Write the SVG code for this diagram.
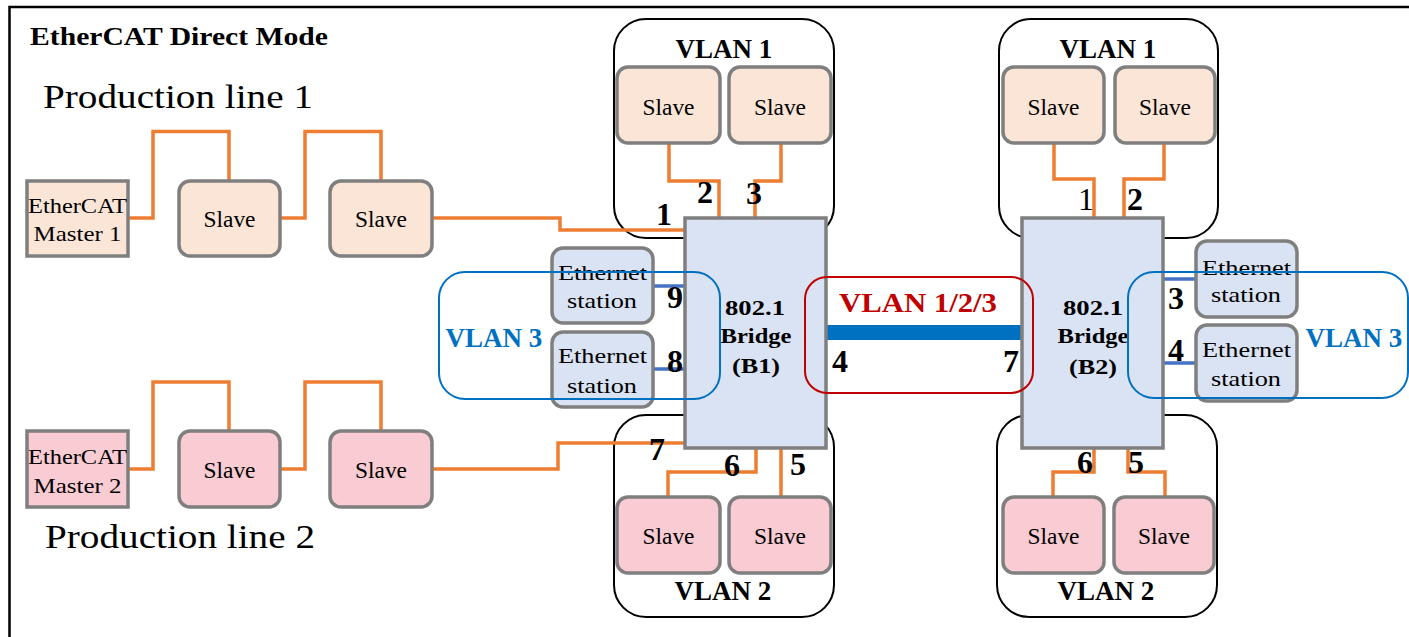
<svg xmlns="http://www.w3.org/2000/svg" width="1409" height="637" viewBox="0 0 1409 637">
<style>
text{font-family:"Liberation Serif","Times New Roman",serif;fill:#000}
.t{font-size:22px;text-anchor:middle}
.s{font-size:23px;text-anchor:middle}
.b{font-weight:bold}
.vl{font-size:27px;font-weight:bold;text-anchor:middle}
.num{font-size:32px;font-weight:bold;text-anchor:middle}
.dev1{fill:#FBE5D6;stroke:#7F7F7F;stroke-width:3.5}
.dev2{fill:#F9CBD3;stroke:#7F7F7F;stroke-width:3.5}
.eth{fill:#DAE3F3;stroke:#7F7F7F;stroke-width:3.5}
.br{fill:#DAE3F3;stroke:#7F7F7F;stroke-width:3.5}
.grp{fill:none;stroke:#000;stroke-width:2}
.v3{fill:none;stroke:#0070C0;stroke-width:2}
.or{fill:none;stroke:#ED7D31;stroke-width:3.5}
.bl{fill:none;stroke:#4472C4;stroke-width:3.5}
</style>
<rect x="0" y="0" width="1409" height="637" fill="#fff"/>
<rect id="frame" x="9.5" y="7" width="1430" height="660" fill="none" stroke="#000" stroke-width="2.5"/>
<text x="30" y="45" font-size="25" font-weight="bold" textLength="298" lengthAdjust="spacingAndGlyphs">EtherCAT Direct Mode</text>
<text x="43" y="108" font-size="33" textLength="270" lengthAdjust="spacingAndGlyphs">Production line 1</text>
<text x="45" y="548" font-size="33" textLength="270" lengthAdjust="spacingAndGlyphs">Production line 2</text>

<g id="vlan1-b1"><rect class="grp" x="614" y="19" width="220" height="219" rx="32"/><text class="vl" x="724" y="58">VLAN 1</text></g>
<g id="vlan2-b1"><rect class="grp" x="614" y="415" width="220" height="202" rx="32"/><text class="vl" x="723" y="600">VLAN 2</text></g>
<g id="vlan1-b2"><rect class="grp" x="999" y="19" width="219" height="219" rx="32"/><text class="vl" x="1108" y="58">VLAN 1</text></g>
<g id="vlan2-b2"><rect class="grp" x="997" y="415" width="220" height="202" rx="32"/><text class="vl" x="1106" y="600">VLAN 2</text></g>

<g id="connectors">
<polyline class="or" points="128,218 153,218 153,131.5 229,131.5 229,181"/>
<polyline class="or" points="280,218 305,218 305,131.5 381,131.5 381,181"/>
<polyline class="or" points="432,218 560,218 560,230 685,230"/>
<polyline class="or" points="128,469 153,469 153,382 229,382 229,431"/>
<polyline class="or" points="280,469 305,469 305,382 381,382 381,431"/>
<polyline class="or" points="432,469 558,469 558,443 685,443"/>
<polyline class="or" points="669,143 669,181 719,181 719,218"/>
<polyline class="or" points="781,143 781,181 755,181 755,218"/>
<polyline class="or" points="756,448 756,472 668,472 668,497"/>
<polyline class="or" points="781,448 781,497"/>
<polyline class="or" points="1054,143 1054,179 1094,179 1094,217"/>
<polyline class="or" points="1164,143 1164,179 1124,179 1124,217"/>
<polyline class="or" points="1094,448 1094,472 1053,472 1053,497"/>
<polyline class="or" points="1128,448 1128,472 1165,472 1165,497"/>
<line class="bl" x1="653" y1="286" x2="685" y2="286"/>
<line class="bl" x1="653" y1="369" x2="685" y2="369"/>
<line class="bl" x1="1163" y1="279" x2="1196" y2="279"/>
<line class="bl" x1="1163" y1="363" x2="1196" y2="363"/>
<rect x="826" y="325" width="197" height="15" fill="#0070C0"/>
</g>

<g id="master1"><rect class="dev1" x="27" y="181" width="101" height="75"/><text class="t" x="77.5" y="213" textLength="99" lengthAdjust="spacingAndGlyphs">EtherCAT</text><text class="t" x="77.5" y="241" textLength="88" lengthAdjust="spacingAndGlyphs">Master 1</text></g>
<g id="slave-p1-1"><rect class="dev1" x="179" y="181" width="101" height="75" rx="11"/><text class="s" x="229.5" y="227" textLength="52" lengthAdjust="spacingAndGlyphs">Slave</text></g>
<g id="slave-p1-2"><rect class="dev1" x="330" y="181" width="102" height="75" rx="11"/><text class="s" x="381" y="227" textLength="52" lengthAdjust="spacingAndGlyphs">Slave</text></g>
<g id="master2"><rect class="dev2" x="27" y="431" width="101" height="76"/><text class="t" x="77.5" y="464" textLength="99" lengthAdjust="spacingAndGlyphs">EtherCAT</text><text class="t" x="77.5" y="493" textLength="88" lengthAdjust="spacingAndGlyphs">Master 2</text></g>
<g id="slave-p2-1"><rect class="dev2" x="179" y="431" width="101" height="76" rx="11"/><text class="s" x="229.5" y="478" textLength="52" lengthAdjust="spacingAndGlyphs">Slave</text></g>
<g id="slave-p2-2"><rect class="dev2" x="330" y="431" width="102" height="76" rx="11"/><text class="s" x="381" y="478" textLength="52" lengthAdjust="spacingAndGlyphs">Slave</text></g>

<g id="slave-b1-t1"><rect class="dev1" x="617" y="67" width="103" height="76" rx="11"/><text class="s" x="668.5" y="115" textLength="52" lengthAdjust="spacingAndGlyphs">Slave</text></g>
<g id="slave-b1-t2"><rect class="dev1" x="729" y="67" width="102" height="76" rx="11"/><text class="s" x="780" y="115" textLength="52" lengthAdjust="spacingAndGlyphs">Slave</text></g>
<g id="slave-b1-b1"><rect class="dev2" x="617" y="497" width="103" height="76" rx="11"/><text class="s" x="668.5" y="544" textLength="52" lengthAdjust="spacingAndGlyphs">Slave</text></g>
<g id="slave-b1-b2"><rect class="dev2" x="729" y="497" width="102" height="76" rx="11"/><text class="s" x="780" y="544" textLength="52" lengthAdjust="spacingAndGlyphs">Slave</text></g>
<g id="slave-b2-t1"><rect class="dev1" x="1003" y="67" width="101" height="76" rx="11"/><text class="s" x="1053.5" y="115" textLength="52" lengthAdjust="spacingAndGlyphs">Slave</text></g>
<g id="slave-b2-t2"><rect class="dev1" x="1115" y="67" width="100" height="76" rx="11"/><text class="s" x="1165" y="115" textLength="52" lengthAdjust="spacingAndGlyphs">Slave</text></g>
<g id="slave-b2-b1"><rect class="dev2" x="1003" y="497" width="101" height="76" rx="11"/><text class="s" x="1053.5" y="544" textLength="52" lengthAdjust="spacingAndGlyphs">Slave</text></g>
<g id="slave-b2-b2"><rect class="dev2" x="1114" y="497" width="100" height="76" rx="11"/><text class="s" x="1164" y="544" textLength="52" lengthAdjust="spacingAndGlyphs">Slave</text></g>

<g id="bridge-b1"><rect class="br" x="685" y="218" width="141" height="230"/><text class="t b" x="755" y="315" textLength="60" lengthAdjust="spacingAndGlyphs">802.1</text><text class="t b" x="756" y="343" textLength="71" lengthAdjust="spacingAndGlyphs">Bridge</text><text class="t b" x="756" y="373" textLength="48" lengthAdjust="spacingAndGlyphs">(B1)</text></g>
<g id="bridge-b2"><rect class="br" x="1022" y="218" width="141" height="230"/><text class="t b" x="1093" y="315" textLength="60" lengthAdjust="spacingAndGlyphs">802.1</text><text class="t b" x="1093" y="343" textLength="71" lengthAdjust="spacingAndGlyphs">Bridge</text><text class="t b" x="1093" y="374" textLength="48" lengthAdjust="spacingAndGlyphs">(B2)</text></g>

<g id="eth-b1-1"><rect class="eth" x="552" y="248" width="101" height="75" rx="11"/><text class="t" x="602.5" y="280" textLength="89" lengthAdjust="spacingAndGlyphs">Ethernet</text><text class="t" x="602" y="308" textLength="70" lengthAdjust="spacingAndGlyphs">station</text></g>
<g id="eth-b1-2"><rect class="eth" x="552" y="332" width="101" height="75" rx="11"/><text class="t" x="602.5" y="363" textLength="89" lengthAdjust="spacingAndGlyphs">Ethernet</text><text class="t" x="602" y="393" textLength="70" lengthAdjust="spacingAndGlyphs">station</text></g>
<g id="eth-b2-1"><rect class="eth" x="1196" y="241" width="101" height="76" rx="11"/><text class="t" x="1246.5" y="275" textLength="89" lengthAdjust="spacingAndGlyphs">Ethernet</text><text class="t" x="1246" y="302" textLength="70" lengthAdjust="spacingAndGlyphs">station</text></g>
<g id="eth-b2-2"><rect class="eth" x="1196" y="325" width="101" height="76" rx="11"/><text class="t" x="1246.5" y="357" textLength="89" lengthAdjust="spacingAndGlyphs">Ethernet</text><text class="t" x="1246" y="386" textLength="70" lengthAdjust="spacingAndGlyphs">station</text></g>

<g id="vlan3-b1"><rect class="v3" x="439" y="272" width="281" height="127" rx="26"/><text class="vl" x="494" y="347" style="fill:#0070C0">VLAN 3</text></g>
<g id="vlan3-b2"><rect class="v3" x="1128" y="272" width="280" height="126" rx="26"/><text class="vl" x="1354" y="347" style="fill:#0070C0">VLAN 3</text></g>
<g id="vlan123"><rect x="805" y="277" width="228" height="116" rx="22" fill="none" stroke="#C00000" stroke-width="2"/><text class="vl" x="918" y="312" style="fill:#C00000" textLength="158" lengthAdjust="spacingAndGlyphs">VLAN 1/2/3</text></g>

<g id="port-labels">
<text class="num" x="664" y="225">1</text>
<text class="num" x="705" y="203">2</text>
<text class="num" x="754" y="204">3</text>
<text class="num" x="675" y="308">9</text>
<text class="num" x="675" y="372">8</text>
<text class="num" x="657" y="460">7</text>
<text class="num" x="732" y="476">6</text>
<text class="num" x="798" y="475">5</text>
<text class="num" x="840" y="372">4</text>
<text class="num" x="1011" y="372">7</text>
<text x="1086" y="210" font-size="32" text-anchor="middle">1</text>
<text class="num" x="1135" y="210">2</text>
<text class="num" x="1176" y="309">3</text>
<text class="num" x="1176" y="361">4</text>
<text class="num" x="1085" y="473">6</text>
<text class="num" x="1136" y="473">5</text>
</g>
</svg>
